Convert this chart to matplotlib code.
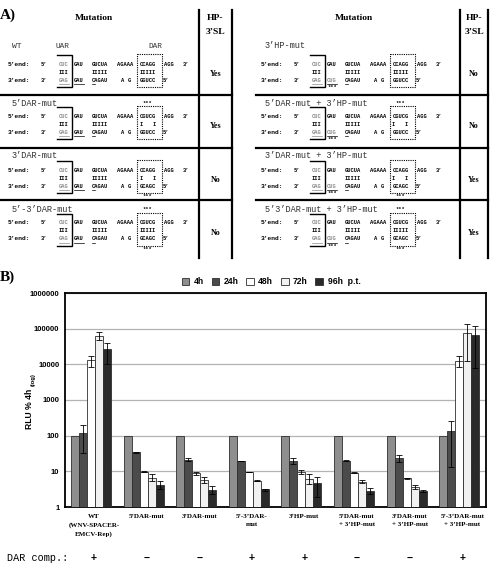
import numpy as np
import matplotlib.pyplot as plt
from matplotlib.patches import Rectangle
from matplotlib.transforms import blended_transform_factory

# ---------------- data, panel B ----------------
groups = ["WT\n(WNV-SPACER-\nEMCV-Rep)", "5’DAR-mut", "3’DAR-mut", "5’-3’DAR-\nmut",
          "3’HP-mut", "5’DAR-mut\n+ 3’HP-mut", "3’DAR-mut\n+ 3’HP-mut", "5’-3’DAR-mut\n+ 3’HP-mut"]
dar_comp = ["+", "−", "−", "+", "+", "−", "−", "+"]
series = ["4h", "24h", "48h", "72h", "96h  p.t."]

h4 = [100, 100, 100, 100, 100, 100, 100, 100]
h24 = [116, 34, 21, 19.5, 20, 20, 24, 135]
h24_lo = [32, 33, 19.5, 19, 16, 19, 18.6, 13.5]
h24_hi = [200, 35, 23, 20, 23.6, 21, 29, 262]
h48 = [13200, 9.7, 8.8, 9.6, 9.7, 9.2, 6.4, 12600]
h48_lo = [8600, 9.5, 8.0, 9.4, 8.5, 8.9, 6.2, 8300]
h48_hi = [17000, 9.9, 9.7, 9.8, 11, 9.5, 6.6, 17000]
h72 = [62000, 6.6, 5.7, 5.4, 6.1, 5.1, 3.6, 74000]
h72_lo = [48000, 5.2, 4.7, 5.2, 4.4, 4.6, 3.2, 12600]
h72_hi = [82000, 8.4, 6.9, 5.6, 8.4, 5.7, 4.1, 135000]
h96 = [26500, 4.1, 3.0, 3.1, 4.8, 2.9, 2.8, 66000]
h96_lo = [10000, 3.1, 2.3, 2.9, 1.95, 2.3, 2.6, 7700]
h96_hi = [40500, 5.4, 3.8, 3.3, 6.8, 3.5, 3.0, 120000]

colors = ["#8e8e8e", "#4b4b4b", "#ffffff", "#f1f1f1", "#2a2a2a"]

# ---------------- data, panel A ----------------
# (label, top DAR, pairing, bottom DAR, stars above DAR, stars below DAR, HP-3'SL)
left_rows = [
    ("WT", "CCAGG", "IIIII", "GGUCC", False, False, "Yes"),
    ("5’DAR-mut", "CGUCG", "I   I", "GGUCC", True, False, "Yes"),
    ("3’DAR-mut", "CCAGG", "I   I", "GCAGC", False, True, "No"),
    ("5’-3’DAR-mut", "CGUCG", "IIIII", "GCAGC", True, True, "No"),
]
right_rows = [
    ("3’HP-mut", "CCAGG", "IIIII", "GGUCC", False, False, "No"),
    ("5’DAR-mut + 3’HP-mut", "CGUCG", "I   I", "GGUCC", True, False, "No"),
    ("3’DAR-mut + 3’HP-mut", "CCAGG", "I   I", "GCAGC", False, True, "Yes"),
    ("5’3’DAR-mut + 3’HP-mut", "CGUCG", "IIIII", "GCAGC", True, True, "Yes"),
]
row_y = [64, 116, 170, 223]
label_y = [46, 103, 156, 209]

fig = plt.figure(figsize=(4.97, 5.68), dpi=100)
ov = fig.add_axes([0, 0, 1, 1])
ov.set_xlim(0, 497)
ov.set_ylim(568, 0)
ov.axis("off")

MONO = "Liberation Mono"
SERIF = "Liberation Serif"
SANS = "Liberation Sans"
SEQ = 3.9
GRAY = "#8a8a8a"


def t(x, y, s, **kw):
    kw.setdefault("family", MONO)
    kw.setdefault("va", "center")
    ov.text(x, y, s, **kw)


def draw_block(ox, rows, hp_mut, col_x, hp_x):
    for r, (lab, top, pair, bot, st_top, st_bot, hp) in enumerate(rows):
        oy = row_y[r]
        if r == 0 and not hp_mut:
            t(ox + 12, label_y[r], lab, fontsize=5.8, color="#333")
            t(ox + 55, label_y[r], "UAR", fontsize=5.6, color="#333")
            t(ox + 148, label_y[r], "DAR", fontsize=5.6, color="#333")
        else:
            t(ox + 12, label_y[r], lab, fontsize=6.2, color="#333")
        # top strand
        t(ox + 8, oy, "5’end:", fontsize=4.5, weight="bold")
        for x, s, c in [(41, "5’", "k"), (59, "CUC", GRAY), (74, "GAU", "k"), (92, "GUCUA", "k"),
                        (117, "AGAAA", "k"), (139.5, top, "k"), (164, "AGG", "k"), (183, "3’", "k")]:
            t(ox + x, oy, s, fontsize=SEQ, weight="bold", color=c)
        # pairing
        for x, s in [(59, "III"), (92, "IIIII"), (139.5, pair)]:
            t(ox + x, oy + 8, s, fontsize=SEQ, weight="bold")
        # bottom strand
        mid = "CUG" if hp_mut else "GAU"
        t(ox + 8, oy + 16, "3’end:", fontsize=4.5, weight="bold")
        for x, s, c in [(41, "3’", "k"), (59, "GAG", GRAY), (74, mid, GRAY if hp_mut else "k"),
                        (92, "CAGAU", "k"), (121, "A", "k"), (128, "G", "k"), (139.5, bot, "k"),
                        (163, "5’", "k")]:
            t(ox + x, oy + 16, s, fontsize=SEQ, weight="bold", color=c)
        # underlines
        for x0, x1, c in [(59, 68.5, GRAY), (74, 83.5, "k"), (92, 95, "k")]:
            ov.plot([ox + x0, ox + x1], [oy + 19.5, oy + 19.5], color=c, lw=0.5)
        # stars
        if st_top:
            t(ox + 147.5, label_y[r], "***", fontsize=SEQ, weight="bold", ha="center")
        if st_bot:
            t(ox + 147.5, oy + 26, "***", fontsize=SEQ, weight="bold", ha="center")
        if hp_mut:
            t(ox + 79, oy + 23, "***", fontsize=SEQ, weight="bold", ha="center")
        # UAR bracket
        ov.plot([ox + 57, ox + 72, ox + 72, ox + 57], [oy - 9, oy - 9, oy + 23, oy + 23],
                color="k", lw=1.0, solid_joinstyle="miter")
        # DAR dotted box
        ov.add_patch(Rectangle((ox + 137, oy - 10), 25, 33, fill=False, ls=(0, (1, 1)),
                               lw=0.8, ec="k"))
        ov.text(hp_x, oy + 10, hp, family=SERIF, weight="bold", fontsize=5.8,
                ha="center", va="center")
    # table lines
    ov.plot([col_x[0], col_x[0]], [10, 258], color="k", lw=1.6)
    ov.plot([col_x[1], col_x[1]], [10, 258], color="k", lw=1.6)
    for y in (95, 148, 200):
        ov.plot([ox if ox == 0 else ox + 3, col_x[1]], [y, y], color="k", lw=1.6)


draw_block(0, left_rows, False, (199, 232), 215.5)
draw_block(253, right_rows, True, (460, 488), 474)

for cx, hx in [(94, 215.5), (354, 474)]:
    ov.text(cx, 18, "Mutation", family=SERIF, weight="bold", fontsize=6.8, ha="center", va="center")
    ov.text(hx, 18, "HP-", family=SERIF, weight="bold", fontsize=6.8, ha="center", va="center")
    ov.text(hx, 32, "3’SL", family=SERIF, weight="bold", fontsize=6.8, ha="center", va="center")

ov.text(0, 15, "A)", family=SERIF, weight="bold", fontsize=11, ha="left", va="center")
ov.text(0, 277, "B)", family=SERIF, weight="bold", fontsize=11, ha="left", va="center")

# ---------------- panel B ----------------
ax = fig.add_axes([65 / 497, 61 / 568, 421 / 497, 214 / 568])
x = np.arange(len(groups))
w = 0.152
vals = [h4, h24, h48, h72, h96]
los = [None, h24_lo, h48_lo, h72_lo, h96_lo]
his = [None, h24_hi, h48_hi, h72_hi, h96_hi]
ax.set_yscale("log")
handles = []
for k in range(5):
    xs = x - 0.5 + 0.113 + (k + 0.5) * w
    v = np.array(vals[k], dtype=float)
    b = ax.bar(xs, v, width=w, color=colors[k], edgecolor="#2e2e2e", linewidth=0.6, zorder=3)
    handles.append(b)
    if los[k] is not None:
        err = [v - np.array(los[k]), np.array(his[k]) - v]
        ax.errorbar(xs, v, yerr=err, fmt="none", ecolor="k", elinewidth=0.6,
                    capsize=2.0, capthick=0.6, zorder=4)

ax.set_ylim(1, 1e6)
ax.set_xlim(-0.5, len(groups) - 0.5)
ax.set_yticks([1, 10, 100, 1000, 10000, 100000, 1000000])
ax.set_yticklabels(["1", "10", "100", "1000", "10000", "100000", "1000000"],
                   family=SANS, weight="bold", fontsize=5.5)
ax.yaxis.set_minor_locator(plt.NullLocator())
ax.tick_params(axis="y", length=0, pad=4)
ax.set_xticks([])
ax.grid(axis="y", color="#b3b3b3", lw=0.9, zorder=0)
for s in ax.spines.values():
    s.set_linewidth(1.3)

bt = blended_transform_factory(ax.transData, ov.transData)
for i, g in enumerate(groups):
    ax.text(x[i] + 0.05, 514, g, transform=bt, ha="center", va="top", family=SERIF,
            weight="bold", fontsize=5.0, linespacing=1.75)
    ax.text(x[i] + 0.05, 558, dar_comp[i], transform=bt, ha="center", va="center",
            family=SANS, weight="bold", fontsize=7.5)
ov.text(7, 558, "DAR comp.:", family=MONO, fontsize=7.3, ha="left", va="center")

ov.text(30, 409, "RLU % 4h", family=SANS, weight="bold", fontsize=6.2, rotation=90,
        ha="center", va="center")
ov.text(33, 380, "(log)", family=SANS, weight="bold", fontsize=4.2, rotation=90,
        ha="center", va="center")

ax.legend(handles, series, ncol=5, loc="center", bbox_to_anchor=(271 / 497, 1 - 282 / 568),
          bbox_transform=fig.transFigure, frameon=False,
          prop={"family": SANS, "weight": "bold", "size": 6.2},
          handlelength=0.9, handleheight=0.9, handletextpad=0.5, columnspacing=0.9)

fig.savefig("out.png", dpi=100)
